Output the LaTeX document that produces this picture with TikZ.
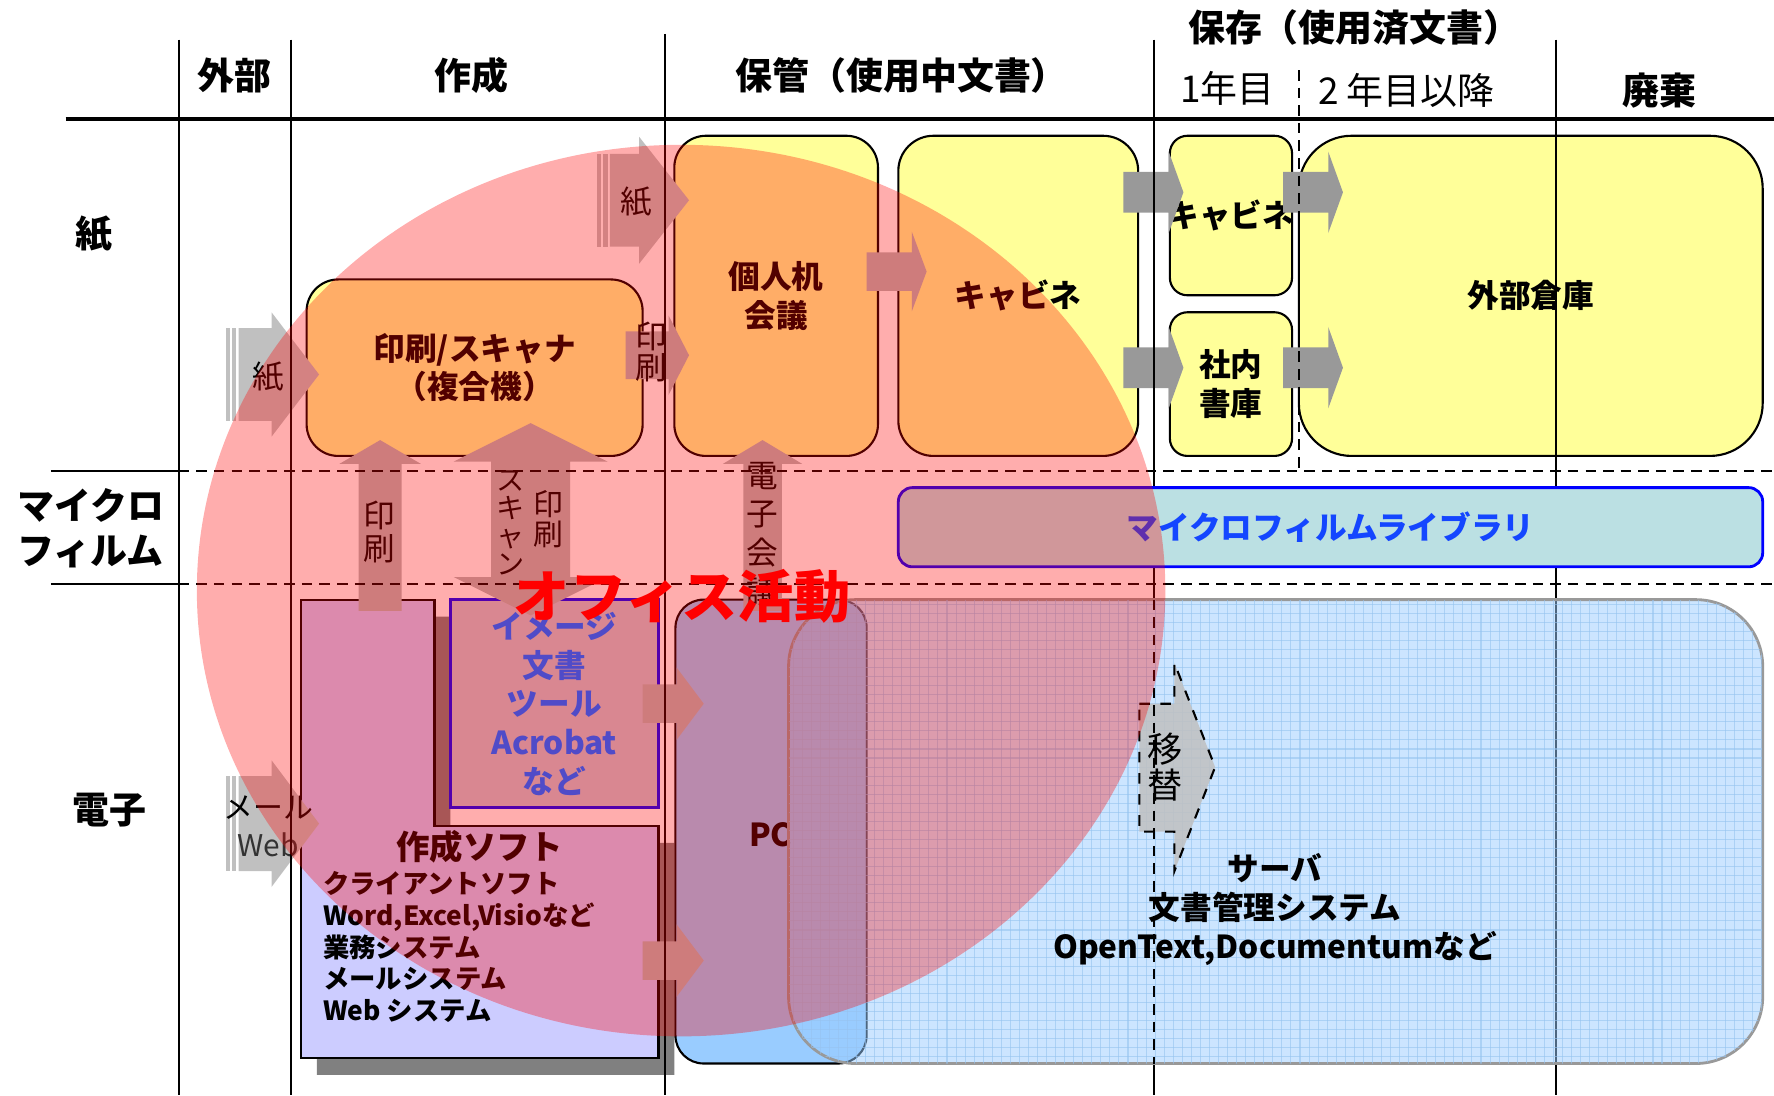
\documentclass[tikz,border=0pt]{standalone}
\usepackage{fontspec}
\setmainfont{Noto Sans CJK JP}
\usetikzlibrary{fit}

\definecolor{boxyellow}{HTML}{FFFF99}
\definecolor{filmteal}{RGB}{187,224,227}
\definecolor{filmblue}{RGB}{20,70,255}
\definecolor{imgblue}{RGB}{80,75,200}
\definecolor{imgfill}{RGB}{200,200,215}
\definecolor{pcblue}{HTML}{99CCFF}
\definecolor{srvgrid}{RGB}{150,195,240}
\definecolor{softlav}{HTML}{CCCCFF}
\definecolor{arrowgray}{HTML}{999999}
\definecolor{softgray}{HTML}{B8B8B8}
\definecolor{stripegray}{HTML}{C0C0C0}
\definecolor{shadowgray}{HTML}{808080}

\newcommand{\boxfont}{\bfseries\fontsize{9}{11}\selectfont}
\newcommand{\hdfont}{\bfseries\fontsize{10.5}{12.8}\selectfont}

% block arrows: style, x0, head base, tip, y centre, body half, head half
\newcommand{\rarrow}[7]{%
  \fill[#1] (#2,#5-#6) -- (#3,#5-#6) -- (#3,#5-#7) -- (#4,#5)
    -- (#3,#5+#7) -- (#3,#5+#6) -- (#2,#5+#6) -- cycle;}
% style, x centre, bottom, head base, tip, body half, head half
\newcommand{\uarrow}[7]{%
  \fill[#1] (#2-#6,#3) -- (#2-#6,#4) -- (#2-#7,#4) -- (#2,#5)
    -- (#2+#7,#4) -- (#2+#6,#4) -- (#2+#6,#3) -- cycle;}
% striped: x0, head base, tip, y centre, body half, head half
\newcommand{\sarrow}[6]{%
  \fill[stripegray] (#1,#4-#5) rectangle (#1+3,#4+#5);
  \fill[stripegray] (#1+5,#4-#5) rectangle (#1+9,#4+#5);
  \rarrow{stripegray}{#1+11}{#2}{#3}{#4}{#5}{#6}}

\tikzset{
  ybox/.style={draw=black, line width=0.6pt, fill=boxyellow, rounded corners=#1, inner sep=0pt},
  ybox/.default=9pt,
  gridline/.style={line width=0.5pt},
  dashline/.style={line width=0.6pt, dash pattern=on 3pt off 2pt},
  hdtext/.style={font=\hdfont, inner sep=0pt, align=left},
  hdthin/.style={font=\fontsize{10.5}{12.8}\selectfont, inner sep=0pt},
  arrtext/.style={font=\fontsize{9}{9}\selectfont, inner sep=0pt, align=center},
  btext/.style={font=\boxfont, inner sep=0pt, align=center}
}

\begin{document}
\begin{tikzpicture}[x=0.011314cm, y=-0.011314cm]
\useasboundingbox (0,0) rectangle (1568,968);

% headers and row labels
\node[hdtext] (hout) at (207,67) {外部};
\node[hdtext] (hmake) at (417,67) {作成};
\node[hdtext] (hkeep) at (797,67) {保管（使用中文書）};
\node[hdtext] (hstore) at (1197,24) {保存（使用済文書）};
\node[hdthin] (hyear1) at (1085,78) {1年目};
\node[hdthin] (hyear2) at (1243,80) {2 年目以降};
\node[hdtext] (hdrop) at (1467,80) {廃棄};
\node[hdtext] (rpaper) at (83,207) {紙};
\node[hdtext, anchor=west] (rfilm) at (15,467) {マイクロ\\フィルム};
\node[hdtext] (relec) at (97,716) {電子};

% paper row
\node[ybox, fit={(271,247) (568,403)}] (mfp) {};
\node[ybox, fit={(596,120) (776,403)}] (desk) {};
\node[ybox=10pt, fit={(794,120) (1006,403)}] (cab) {};
\node[ybox=5pt, fit={(1034,120) (1142,261)}] (cab1) {};
\node[ybox=5pt, fit={(1034,276) (1142,403)}] (lib) {};
\node[ybox=15pt, fit={(1148,120) (1558,403)}] (ext) {};
\node[btext] (mfptext) at (mfp.center) {印刷/スキャナ\\（複合機）};
\node[btext] (desktext) at (desk.center) {個人机\\会議};
\node[btext] (cabtext) at (cab.center) {キャビネ};
\node[btext] (cab1text) at (cab1.center) {キャビネ};
\node[btext] (libtext) at (lib.center) {社内\\書庫};
\node[btext] (exttext) at (ext.center) {外部倉庫};

% electronic row
\fill[shadowgray] (280,545) -- (398,545) -- (398,745) -- (596,745) -- (596,950) -- (280,950) -- cycle;
\draw[fill=softlav, line width=0.6pt] (266,530) -- (384,530) -- (384,730) -- (582,730) -- (582,935) -- (266,935) -- cycle;
\node[btext, font=\bfseries\fontsize{9.5}{11}\selectfont] (soft) at (424,748) {作成ソフト};
\node[btext, anchor=west, align=left, font=\bfseries\fontsize{7.5}{9}\selectfont] (softlist) at (285,837)
  {クライアントソフト\\Word,Excel,Visioなど\\業務システム\\メールシステム\\Web システム};
\node[draw=blue, line width=0.8pt, fill=imgfill, inner sep=0pt, fit={(398,530) (582,714)}] (img) {};
\node[draw, line width=0.6pt, fill=pcblue, rounded corners=8pt, inner sep=0pt,
  fit={(597,530) (766,940)}] (pc) {};
\node[btext] (pctext) at (681,738) {PC};

% arrows
\sarrow{528}{565}{609}{177}{41}{56}
\sarrow{200}{240}{282}{331}{41}{55}
\sarrow{200}{240}{282}{728}{42}{56}
\rarrow{softgray}{553}{591}{609}{314}{21}{35}
\rarrow{softgray}{766}{806}{819}{240}{17}{35}
\foreach \xa/\xb/\xc in {993/1033/1046, 1134/1174/1187}
  \foreach \yc in {170,325} {\rarrow{arrowgray}{\xa}{\xb}{\xc}{\yc}{18}{36}}
\rarrow{softgray}{568}{598}{622}{622}{17}{32}
\rarrow{softgray}{568}{598}{622}{849}{17}{32}
\uarrow{softgray}{336}{540}{410}{389}{19}{36}
\uarrow{softgray}{674}{540}{410}{389}{17}{35}
\fill[softgray] (434,408) -- (401,408) -- (469,374) -- (537,408) -- (504,408) -- (504,510)
  -- (537,510) -- (469,544) -- (401,510) -- (434,510) -- cycle;

% arrow labels
\node[arrtext] (lpaper1) at (562,178) {紙};
\node[arrtext] (lpaper2) at (237,333) {紙};
\node[arrtext] (lprint1) at (576,311) {印\\刷};
\node[arrtext, font=\fontsize{9}{9.3}\selectfont] (lprint2) at (335,470) {印\\刷};
\node[arrtext, font=\fontsize{8}{8}\selectfont] (lscan) at (451,462) {ス\\キ\\ャ\\ン};
\node[arrtext, font=\fontsize{8.5}{8.7}\selectfont] (lprint3) at (485,459) {印\\刷};
\node[arrtext, font=\fontsize{9}{11}\selectfont] (lconf) at (674,472) {電\\子\\会\\議};
\node[arrtext, font=\fontsize{8.5}{8.5}\selectfont] (lmail) at (237,714) {メール};
\node[arrtext, font=\fontsize{8.5}{8.5}\selectfont, text=black!80] (lweb) at (237,747) {Web};

% grid lines
\draw[line width=1pt] (58,105) -- (1568,105);
\foreach \x/\t in {158/35, 257/35, 588/30, 1375/35}
  \draw[gridline] (\x,\t) -- (\x,968);
\draw[gridline] (1020,35) -- (1020,530);
\draw[gridline] (1020,940) -- (1020,968);
\foreach \y in {416,516} {
  \draw[gridline] (45,\y) -- (158,\y);
  \draw[dashline] (158,\y) -- (1568,\y);
}
\draw[dashline] (1148,62) -- (1148,416);

% microfilm library
\node[draw=blue, line width=0.8pt, fill=filmteal, rounded corners=4pt, inner sep=0pt,
  fit={(794,431) (1558,501)}] (film) {};
\node[btext, text=filmblue] (filmtext) at (film.center) {マイクロフィルムライブラリ};

% server with its grid texture
\node[draw=arrowgray, line width=0.8pt, fill=pcblue, fill opacity=0.5, rounded corners=19pt,
  inner sep=0pt, fit={(697,530) (1558,940)}] (srv) {};
\begin{scope}
  \clip[rounded corners=19pt] (697,530) rectangle (1558,940);
  \foreach \x in {701,709,...,1558} \draw[srvgrid, line width=0.3pt, opacity=0.6] (\x,530) -- (\x,940);
  \foreach \y in {534,542,...,940} \draw[srvgrid, line width=0.3pt, opacity=0.6] (697,\y) -- (1558,\y);
\end{scope}
\node[btext, font=\bfseries\fontsize{9}{11}\selectfont] (srvtext) at (1127,804)
  {サーバ\\文書管理システム\\OpenText,Documentumなど};

% migration arrow
\draw[dashed, line width=0.6pt, fill=stripegray, fill opacity=0.85] (1007,622) -- (1038,622) -- (1038,586)
  -- (1074,678) -- (1038,770) -- (1038,735) -- (1007,735) -- cycle;
\node[arrtext, font=\fontsize{10}{10.3}\selectfont] (lmove) at (1030,678) {移\\替};
\draw[dashline] (1020,530) -- (1020,940);

% office activity
\fill[red, opacity=0.32] (602,522) ellipse [x radius=428, y radius=394];
\node[btext, text=imgblue] (imgtext) at (img.center) {イメージ\\文書\\ツール\\Acrobat\\など};
\node[inner sep=0pt, text=red, font=\bfseries\fontsize{16}{16}\selectfont] (office) at (603,527) {オフィス活動};
\end{tikzpicture}
\end{document}
